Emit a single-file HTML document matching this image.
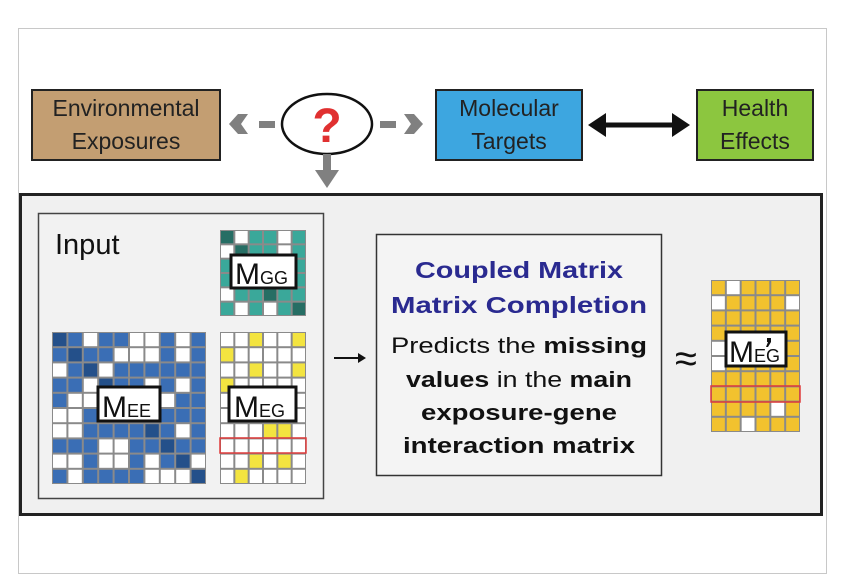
<!DOCTYPE html>
<html><head><meta charset="utf-8"><style>
html,body{margin:0;padding:0;background:#fff;width:846px;height:588px;overflow:hidden}
svg{display:block;font-family:"Liberation Sans",Arial,sans-serif}
</style></head><body>
<svg id="s" width="846" height="588" viewBox="0 0 846 588" xmlns="http://www.w3.org/2000/svg">
<rect x="18.5" y="28.5" width="808" height="545" fill="#fff" stroke="#c8c8c8" stroke-width="1"/>
<rect x="32" y="90" width="188" height="70" fill="#c39e72" stroke="#222" stroke-width="2"/>
<text x="126" y="116" font-size="23" text-anchor="middle" fill="#222">Environmental</text>
<text x="126" y="149" font-size="23" text-anchor="middle" fill="#222">Exposures</text>
<rect x="436" y="90" width="146" height="70" fill="#3da6e0" stroke="#222" stroke-width="2"/>
<text x="509" y="116" font-size="23" text-anchor="middle" fill="#222">Molecular</text>
<text x="509" y="149" font-size="23" text-anchor="middle" fill="#222">Targets</text>
<rect x="697" y="90" width="116" height="70" fill="#8cc63f" stroke="#222" stroke-width="2"/>
<text x="755" y="116" font-size="23" text-anchor="middle" fill="#222">Health</text>
<text x="755" y="149" font-size="23" text-anchor="middle" fill="#222">Effects</text>
<ellipse cx="327" cy="124" rx="45" ry="30" fill="#fff" stroke="#111" stroke-width="2.5"/>
<text x="327" y="142" font-size="48" font-weight="bold" text-anchor="middle" fill="#e03030">?</text>
<g fill="#808080">
<polygon points="248,114 241,124 248,134 238,134 229,124 238,114"/>
<rect x="259" y="121" width="16" height="7"/>
<rect x="380" y="121" width="16" height="7"/>
<polygon points="404,114 414,114 423,124 414,134 404,134 411,124"/>
<rect x="323" y="154" width="8" height="22"/>
<polygon points="315,170 327,188 339,170"/>
</g>
<line x1="600" y1="125" x2="678" y2="125" stroke="#111" stroke-width="5"/>
<polygon points="588,125 606,113 606,137" fill="#111"/>
<polygon points="690,125 672,113 672,137" fill="#111"/>
<rect x="20.5" y="194.5" width="801" height="320" fill="#f0f0f0" stroke="#222" stroke-width="3"/>
<rect x="38.5" y="213.5" width="285" height="285" fill="#f2f2f2" stroke="#444" stroke-width="1.5"/>
<text x="55" y="254" font-size="29" fill="#111">Input</text>
<g id="grids"></g>
<g font-size="30" fill="#111">
<rect x="231" y="255" width="65" height="33" fill="#fff" stroke="#111" stroke-width="3"/>
<text x="235" y="284">M<tspan font-size="18">GG</tspan></text>
<rect x="98" y="387" width="62" height="34" fill="#fff" stroke="#111" stroke-width="3"/>
<text x="102" y="417">M<tspan font-size="18">EE</tspan></text>
<rect x="229" y="387" width="67" height="34" fill="#fff" stroke="#111" stroke-width="3"/>
<text x="234" y="417">M<tspan font-size="18">EG</tspan></text>
<rect x="726" y="332" width="60" height="34" fill="#fff" stroke="#111" stroke-width="3"/>
<text x="729" y="362">M<tspan font-size="18">EG</tspan></text>
</g>
<rect x="768" y="338" width="4" height="6" fill="#fff"/>
<path d="M767 338 h4 v4 l-3 5 h-2 l2-5 h-1z" fill="#111"/>
<line x1="334" y1="358" x2="364" y2="358" stroke="#111" stroke-width="2"/>
<polygon points="366,358 358,353 358,363" fill="#111"/>
<text x="686" y="372" font-size="40" text-anchor="middle" fill="#111">≈</text>
<rect x="376.5" y="234.5" width="285" height="241" fill="#f4f4f4" stroke="#333" stroke-width="1.5"/>
<g font-weight="bold" font-size="23" fill="#2a2a90" text-anchor="middle">
<text x="519" y="278" textLength="208" lengthAdjust="spacingAndGlyphs">Coupled Matrix</text>
<text x="519" y="313" textLength="256" lengthAdjust="spacingAndGlyphs">Matrix Completion</text>
</g>
<g font-size="22" fill="#111" text-anchor="middle">
<text x="519" y="353" textLength="256" lengthAdjust="spacingAndGlyphs">Predicts the <tspan font-weight="bold">missing</tspan></text>
<text x="519" y="387" textLength="226" lengthAdjust="spacingAndGlyphs"><tspan font-weight="bold">values</tspan> in the <tspan font-weight="bold">main</tspan></text>
<text x="519" y="420" textLength="196" lengthAdjust="spacingAndGlyphs" font-weight="bold">exposure-gene</text>
<text x="519" y="453" textLength="232" lengthAdjust="spacingAndGlyphs" font-weight="bold">interaction matrix</text>
</g>
</svg>
<script>
(function(){
var g=document.getElementById('grids'),NS='http://www.w3.org/2000/svg';
function grid(x,y,w,h,rows,cols,pat,colors){
 var r=document.createElementNS(NS,'rect');r.setAttribute('x',x);r.setAttribute('y',y);r.setAttribute('width',w);r.setAttribute('height',h);r.setAttribute('fill','#8a8a8a');g.appendChild(r);
 var cw=w/cols,ch=h/rows;
 for(var i=0;i<rows;i++)for(var j=0;j<cols;j++){
  var c=pat[i][j];var e=document.createElementNS(NS,'rect');
  e.setAttribute('x',x+j*cw+1);e.setAttribute('y',y+i*ch+1);e.setAttribute('width',cw-2);e.setAttribute('height',ch-2);
  e.setAttribute('fill',colors[c]);g.appendChild(e);}
}
var mee=["2101100101","1211000101","0120111111","1102110101","1001111011","0011111111","0011112101","1110011211","0010010120","1011110002"];
grid(52,332,154,152,10,10,mee,{'0':'#fff','1':'#3a6eb5','2':'#24508a'});
var mgg=["201101","021101","111111","111111","011211","101012"];
grid(220,230,86,86,6,6,mgg,{'0':'#fff','1':'#3aa89a','2':'#266e64'});
var meg=["001001","100000","001001","100000","000000","000000","000110","000000","001010","010000"];
grid(220,332,86,152,10,6,meg,{'0':'#fff','1':'#f3e440'});
var m2=["101111","011110","111111","111111","011111","011111","111111","111111","111101","110111"];
grid(711,280,89,152,10,6,m2,{'0':'#fff','1':'#f2c22e'});
function red(x,y,w,h){var e=document.createElementNS(NS,'rect');e.setAttribute('x',x);e.setAttribute('y',y);e.setAttribute('width',w);e.setAttribute('height',h);e.setAttribute('fill','none');e.setAttribute('stroke','#e03a3a');e.setAttribute('stroke-width','1.5');g.appendChild(e);}
red(220,438,86,15);red(711,386,89,16);
})();
</script>
</body></html>
